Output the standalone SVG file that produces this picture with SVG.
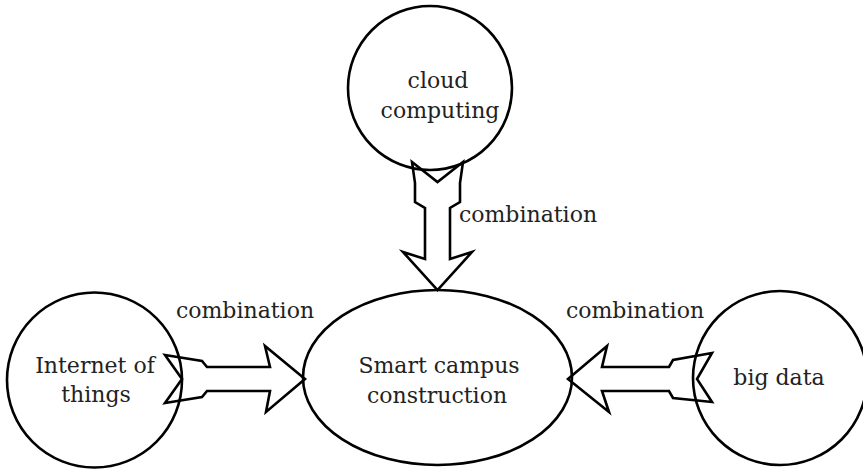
<svg xmlns="http://www.w3.org/2000/svg" width="863" height="470" viewBox="0 0 863 470">
  <style>
    .node { fill: none; stroke: #000; stroke-width: 2.6; }
    .arrow { fill: none; stroke: #000; stroke-width: 2.6; stroke-linejoin: miter; stroke-miterlimit: 10; }
    .t { font-family: 'DejaVu Serif', serif; font-size: 22px; fill: #222; text-anchor: middle; }
  </style>
  <rect width="863" height="470" fill="#fff"/>

  <!-- hollow block arrows -->
  <g id="connectors">
    <polygon class="arrow" points="412,162 437.5,182 463,162 460,183 460,202 450,208 450,259 472,252 437.5,290 403,252 425,259 425,208 415,202 415,183"/>
    <polygon class="arrow" points="165,355 202,361 207,367 270,367 265,346 305,379 266,412 270,391 207,391 202,397 165,403 182,379"/>
    <polygon class="arrow" points="712,353 673,360 669,367 602,367 607,346 568,379 609,412 602,391 669,391 673,398 712,402 697,379"/>
    <text x="528" y="222" class="t">combination</text>
    <text x="245" y="318" class="t">combination</text>
    <text x="635" y="318" class="t">combination</text>
  </g>

  <g id="cloud-computing">
    <circle class="node" cx="430" cy="88" r="82"/>
    <text x="438" y="88" class="t">cloud</text>
    <text x="440" y="118" class="t">computing</text>
  </g>

  <g id="internet-of-things">
    <circle class="node" cx="94.5" cy="380" r="87.5"/>
    <text x="95" y="373" class="t">Internet of</text>
    <text x="96" y="402" class="t">things</text>
  </g>

  <g id="smart-campus">
    <ellipse class="node" cx="437.5" cy="377.5" rx="134.5" ry="87.5"/>
    <text x="439" y="373" class="t">Smart campus</text>
    <text x="437" y="403" class="t">construction</text>
  </g>

  <g id="big-data">
    <circle class="node" cx="780" cy="378" r="87"/>
    <text x="779" y="385" class="t">big data</text>
  </g>
</svg>
